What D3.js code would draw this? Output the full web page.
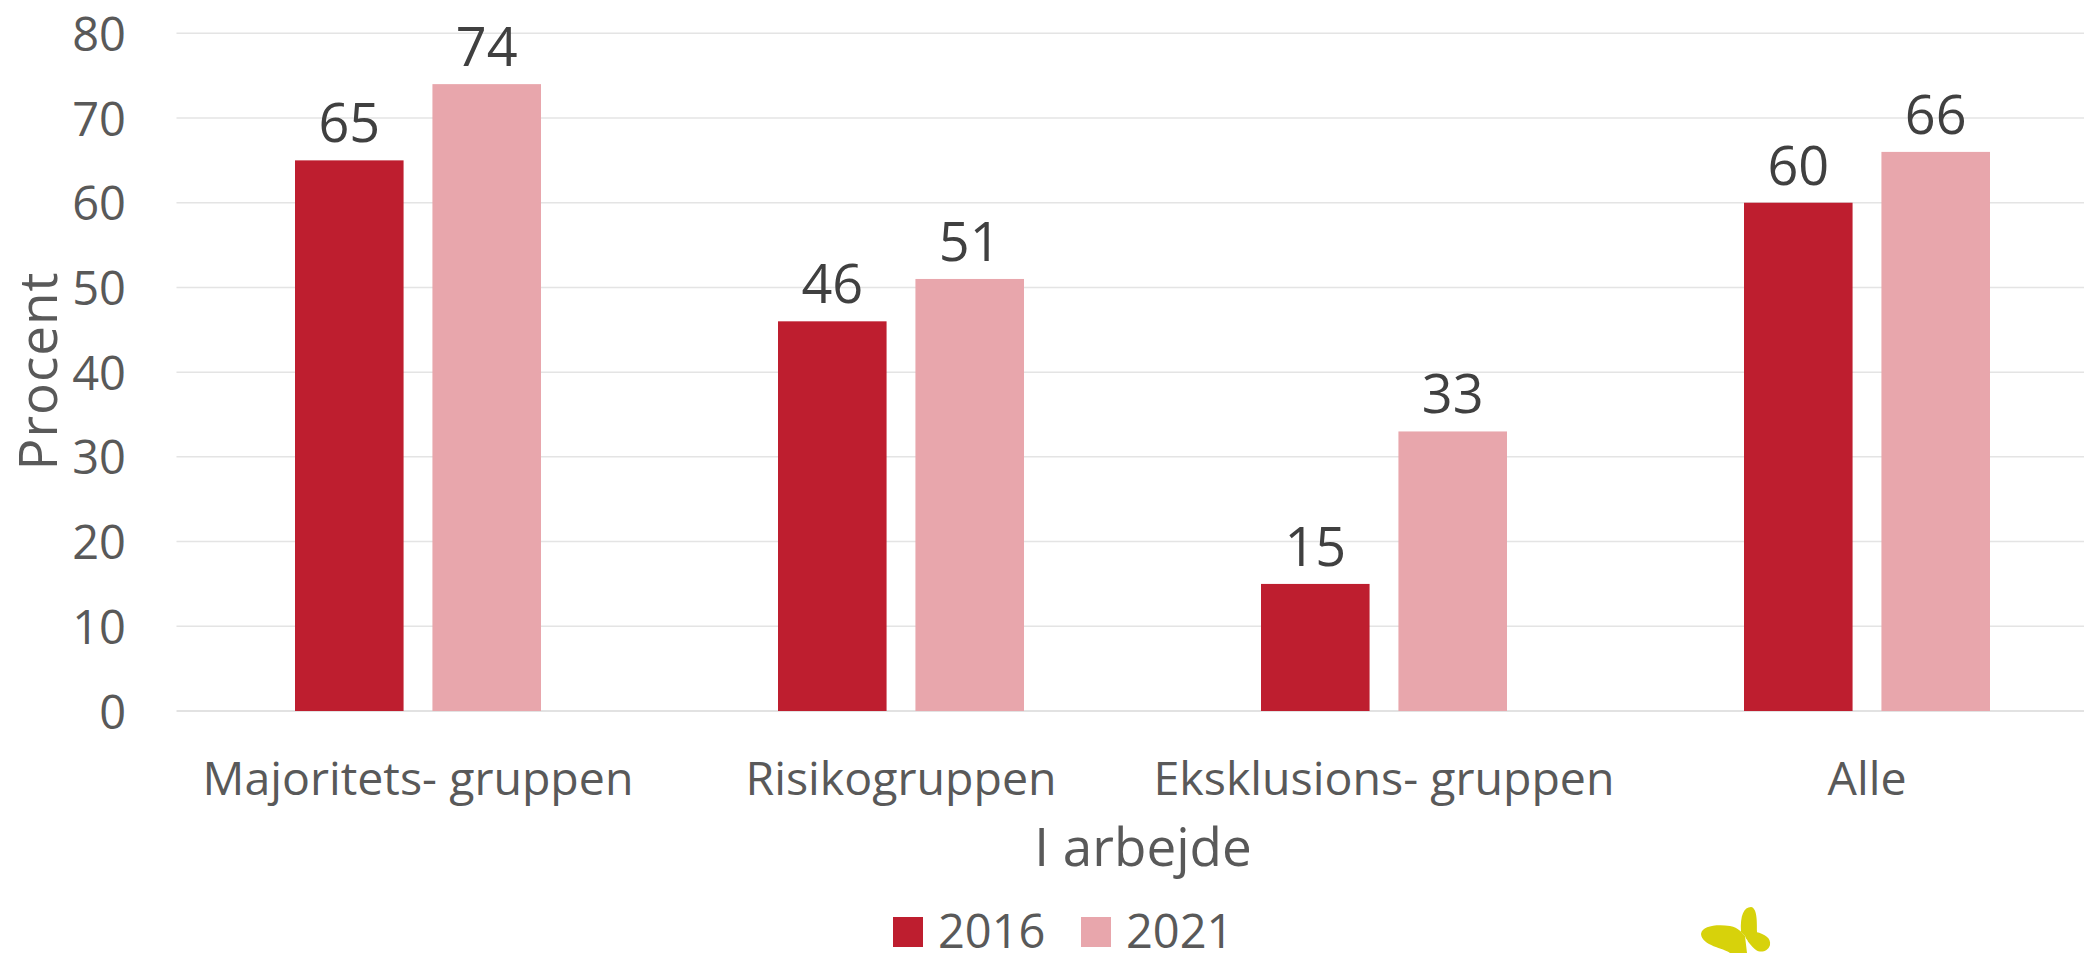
<!DOCTYPE html>
<html><head><meta charset="utf-8">
<script src="https://cdn.jsdelivr.net/npm/d3@7"></script>
<style>html,body{margin:0;padding:0;background:#fff;overflow:hidden}svg{display:block}text{font-family:"Open Sans",Lato,sans-serif}</style>
</head><body><svg id="c" width="2084" height="953"></svg>
<script>
const categories=["Majoritets- gruppen","Risikogruppen","Eksklusions- gruppen","Alle"];
const seriesNames=["2016","2021"];
const values2016=[65,46,15,60];
const values2021=[74,51,33,66];
const yTicks=[0,10,20,30,40,50,60,70,80];
const colors=["#BE1E2F","#E8A6AC"];
const W=2084,H=953;
const svg=d3.select("#c");
const y=d3.scaleLinear().domain([0,80]).range([711,33.3]);
const x=d3.scaleBand().domain(categories).range([176.5,2108.5]);
const x1=d3.scaleBand().domain(seriesNames).range([118.5,364.5]).paddingInner(0.21);
const gridColor="#E4E4E4",textColor="#595959",labelColor="#404040";
svg.append("g").selectAll("line").data(yTicks).join("line")
 .attr("x1",x.range()[0]).attr("x2",W).attr("y1",d=>y(d)).attr("y2",d=>y(d))
 .attr("stroke",d=>d===0?"#D9D9D9":gridColor).attr("stroke-width",1.5);
svg.append("g").selectAll("text").data(yTicks).join("text")
 .attr("x",126).attr("y",d=>y(d)+17.5).attr("text-anchor","end").attr("font-size",47).attr("fill",textColor).text(d=>d);
const series=[values2016,values2021];
series.forEach((vals,i)=>{
 const g=svg.append("g");
 g.selectAll("rect").data(vals).join("rect")
  .attr("x",(d,j)=>x(categories[j])+x1(seriesNames[i])).attr("width",x1.bandwidth())
  .attr("y",d=>y(d)).attr("height",d=>y(0)-y(d)).attr("fill",colors[i]);
 g.selectAll("text").data(vals).join("text")
  .attr("x",(d,j)=>x(categories[j])+x1(seriesNames[i])+x1.bandwidth()/2)
  .attr("y",d=>y(d)-18).attr("text-anchor","middle").attr("font-size",54).attr("fill",labelColor).text(d=>d);
});
svg.append("g").selectAll("text").data(categories).join("text")
 .attr("x",d=>x(d)+x.bandwidth()/2).attr("y",795).attr("text-anchor","middle").attr("font-size",46.5).attr("fill",textColor).text(d=>d);
svg.append("text").attr("x",1143).attr("y",866).attr("text-anchor","middle").attr("font-size",53).attr("fill",textColor).text("I arbejde");
svg.append("text").attr("transform","translate(57,371) rotate(-90)").attr("text-anchor","middle").attr("font-size",53).attr("letter-spacing",1).attr("fill",textColor).text("Procent");
const legendX=[893,1081];
seriesNames.forEach((s,i)=>{
 svg.append("rect").attr("x",legendX[i]).attr("y",917).attr("width",30).attr("height",30).attr("fill",colors[i]);
 svg.append("text").attr("x",legendX[i]+45).attr("y",948).attr("font-size",47).attr("fill",textColor).text(s);
});
// butterfly logo
svg.append("g").attr("fill","#D7D20B").selectAll("path").data([
 "M1701,934 C1702,926 1716,924 1730,926 C1739,928 1741,932 1745,936 L1747,953 L1730,953 C1724,948 1702,946 1701,934Z",
 "M1741,932 C1740,915 1744,907 1751,907 C1757,908 1757,920 1757,932 C1757,940 1748,945 1745,936Z",
 "M1756,932 C1765,934 1771,938 1770,945 C1768,952 1760,953 1756,950 C1751,946 1746,940 1746,936Z"
]).join("path").attr("d",d=>d);
</script></body></html>
